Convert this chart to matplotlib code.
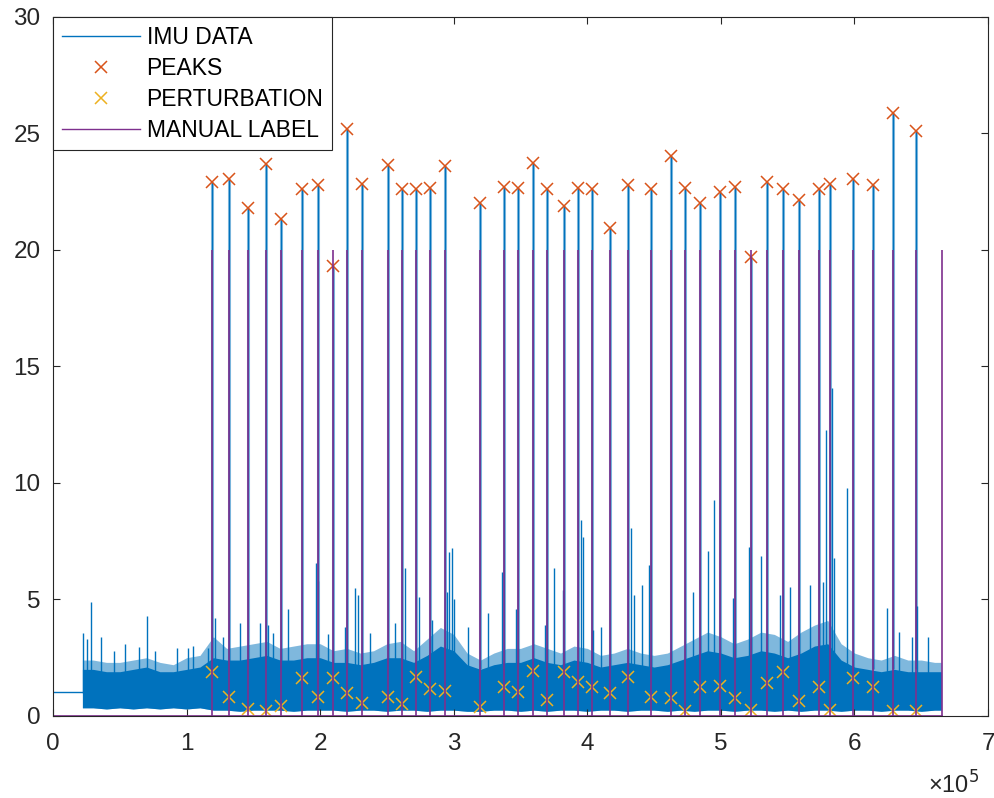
import matplotlib.pyplot as plt
from matplotlib.lines import Line2D

# x values are in units of 1e5 samples
peak_x = [1.190, 1.317, 1.460, 1.594, 1.707, 1.864, 1.984, 2.096, 2.201, 2.313,
          2.507, 2.612, 2.717, 2.822, 2.934, 3.196, 3.376, 3.481, 3.593, 3.698,
          3.825, 3.930, 4.034, 4.169, 4.304, 4.476, 4.626, 4.731, 4.843, 4.993,
          5.105, 5.225, 5.344, 5.464, 5.584, 5.734, 5.816, 5.988, 6.138, 6.287,
          6.460]
peak_y = [22.9, 23.05, 21.8, 23.7, 21.35, 22.6, 22.8, 19.3, 25.2, 22.85,
          23.65, 22.6, 22.6, 22.65, 23.6, 22.0, 22.7, 22.65, 23.75, 22.6,
          21.9, 22.65, 22.6, 20.95, 22.8, 22.6, 24.05, 22.65, 22.0, 22.5,
          22.7, 19.7, 22.9, 22.6, 22.15, 22.6, 22.85, 23.05, 22.8, 25.9,
          25.1]
pert_y = [1.9, 0.8, 0.3, 0.2, 0.43, 1.63, 0.8, 1.63, 0.97, 0.56,
          0.8, 0.5, 1.67, 1.15, 1.07, 0.38, 1.24, 1.02, 1.95, 0.68,
          1.9, 1.47, 1.24, 0.98, 1.67, 0.8, 0.76, 0.22, 1.25, 1.3,
          0.76, 0.26, 1.4, 1.87, 0.64, 1.25, 0.26, 1.63, 1.25, 0.22,
          0.22]
label_extra_x = [0.0, 6.654]
label_height = 20

# IMU signal: flat start, then a noisy band described by its envelope plus spikes
flat_x = [0.0, 0.222]
flat_y = [1.02, 1.02]
band_x = [0.22, 0.3, 0.4, 0.5, 0.6, 0.7, 0.8, 0.9, 1.0, 1.1,
          1.2, 1.3, 1.4, 1.5, 1.6, 1.7, 1.8, 1.9, 2.0, 2.1,
          2.2, 2.3, 2.4, 2.5, 2.6, 2.7, 2.8, 2.9, 3.0, 3.1,
          3.2, 3.3, 3.4, 3.5, 3.6, 3.7, 3.8, 3.9, 4.0, 4.1,
          4.2, 4.3, 4.4, 4.5, 4.6, 4.7, 4.8, 4.9, 5.0, 5.1,
          5.2, 5.3, 5.4, 5.5, 5.6, 5.7, 5.8, 5.9, 6.0, 6.1,
          6.2, 6.3, 6.4, 6.5, 6.6, 6.65]
band_dense = [2.0, 2.0, 1.9, 1.9, 2.0, 2.1, 1.9, 1.9, 2.0, 2.1,
              2.5, 2.4, 2.4, 2.5, 2.6, 2.4, 2.4, 2.5, 2.5, 2.3,
              2.3, 2.2, 2.3, 2.5, 2.5, 2.3, 2.6, 3.0, 2.8, 2.2,
              2.0, 2.2, 2.3, 2.3, 2.5, 2.3, 2.2, 2.4, 2.3, 2.1,
              2.2, 2.3, 2.2, 2.1, 2.2, 2.4, 2.6, 2.8, 2.7, 2.5,
              2.6, 2.8, 2.7, 2.5, 2.7, 3.0, 3.1, 2.4, 2.1, 2.0,
              1.9, 2.0, 1.9, 1.9, 1.9, 1.9]
band_light = [2.4, 2.4, 2.3, 2.3, 2.4, 2.5, 2.3, 2.2, 2.5, 2.6,
              3.4, 2.9, 3.0, 3.1, 3.2, 2.9, 3.0, 3.1, 3.1, 2.8,
              2.9, 2.7, 2.8, 3.1, 3.2, 2.8, 3.3, 3.8, 3.5, 2.7,
              2.4, 2.7, 2.9, 2.9, 3.1, 2.9, 2.7, 3.0, 2.9, 2.6,
              2.7, 2.9, 2.7, 2.6, 2.7, 3.0, 3.3, 3.6, 3.4, 3.1,
              3.3, 3.6, 3.5, 3.2, 3.6, 3.9, 4.1, 3.1, 2.7, 2.5,
              2.4, 2.6, 2.4, 2.4, 2.3, 2.3]
band_low = [0.35, 0.35, 0.3, 0.35, 0.3, 0.35, 0.3, 0.35, 0.3, 0.35,
            0.25, 0.25, 0.2, 0.25, 0.25, 0.25, 0.2, 0.25, 0.25, 0.25,
            0.2, 0.25, 0.25, 0.2, 0.25, 0.25, 0.2, 0.25, 0.25, 0.2,
            0.2, 0.25, 0.25, 0.2, 0.25, 0.2, 0.25, 0.25, 0.2, 0.25,
            0.25, 0.2, 0.25, 0.25, 0.2, 0.25, 0.2, 0.25, 0.25, 0.2,
            0.25, 0.25, 0.2, 0.25, 0.2, 0.25, 0.25, 0.2, 0.25, 0.25,
            0.2, 0.25, 0.25, 0.2, 0.25, 0.25]
spike_x = [0.227, 0.252, 0.284, 0.36, 0.46, 0.54, 0.64, 0.70, 0.76, 0.93,
           1.01, 1.05, 1.16, 1.213, 1.275, 1.40, 1.55, 1.61, 1.65, 1.76,
           1.966, 1.986, 2.06, 2.186, 2.26, 2.28, 2.37, 2.56, 2.635, 2.74,
           2.835, 2.947, 2.967, 2.984, 3.0, 3.11, 3.26, 3.36, 3.466, 3.68,
           3.75, 3.815, 3.95, 3.965, 4.04, 4.10, 4.33, 4.35, 4.41, 4.46,
           4.79, 4.905, 4.948, 5.09, 5.21, 5.30, 5.44, 5.52, 5.67, 5.766,
           5.79, 5.83, 5.85, 5.945, 6.247, 6.33, 6.43, 6.47, 6.55]
spike_y = [3.55, 3.3, 4.9, 3.4, 2.8, 3.1, 2.95, 4.3, 2.8, 2.9,
           2.9, 3.0, 2.9, 4.2, 3.4, 4.0, 4.0, 3.9, 3.55, 4.6,
           6.55, 5.8, 3.5, 3.8, 5.5, 5.2, 3.55, 4.0, 6.35, 5.1,
           4.1, 5.3, 7.05, 7.2, 5.0, 3.8, 4.4, 6.2, 4.6, 3.9,
           6.35, 5.4, 8.4, 7.7, 3.7, 3.8, 8.05, 5.2, 5.6, 6.5,
           5.3, 7.1, 9.27, 5.05, 7.27, 6.85, 5.2, 5.55, 5.6, 5.76,
           12.27, 14.06, 6.8, 9.77, 4.65, 3.6, 3.4, 4.7, 3.4]

c_imu = '#0072BD'
c_peak = '#D95319'
c_pert = '#EDB120'
c_label = '#7E2F8E'

plt.rcParams['font.family'] = ['Liberation Sans', 'DejaVu Sans']
fig = plt.figure(figsize=(9.95, 7.98), dpi=100)
ax = fig.add_axes([0.0533, 0.1028, 0.9397, 0.8759])

s = 1e5
bx = [v * s for v in band_x]
ax.plot([v * s for v in flat_x], flat_y, color=c_imu, lw=1)
ax.fill_between(bx, band_low, band_light, color=c_imu, alpha=0.5, lw=0)
ax.fill_between(bx, band_low, band_dense, color=c_imu, lw=0)
ax.vlines([v * s for v in spike_x], 1.0, spike_y, color=c_imu, lw=1)
ax.vlines([v * s for v in peak_x], 2.0, peak_y, color=c_imu, lw=2.2, alpha=0.5)
ax.vlines([v * s for v in peak_x], 2.0, peak_y, color=c_imu, lw=0.8)

ax.plot([v * s for v in peak_x], peak_y, 'x', color=c_peak, ms=8.5, mew=1.1)
ax.plot([v * s for v in peak_x], pert_y, 'x', color=c_pert, ms=8.5, mew=1.1)

label_x = [label_extra_x[0]] + peak_x + [label_extra_x[1]]
ax.plot([0, label_extra_x[1] * s], [0, 0], color=c_label, lw=1.2)
ax.vlines([v * s for v in label_x], 0, label_height, color=c_label, lw=1.2)

ax.set_xlim(0, 7e5)
ax.set_ylim(0, 30)
ax.set_xticks([i * s for i in range(8)])
ax.set_xticklabels([str(i) for i in range(8)])
ax.set_yticks(range(0, 31, 5))
ax.tick_params(direction='in', length=5, top=True, right=True,
               labelsize=17.5, colors='#262626', pad=9)
ax.tick_params(axis='x', pad=12)
for sp in ax.spines.values():
    sp.set_color('#262626')
    sp.set_linewidth(0.8)
fig.text(0.933, 0.006, '×10$^5$', fontsize=17, color='#262626')

handles = [Line2D([], [], color=c_imu, lw=1),
           Line2D([], [], color=c_peak, ls='none', marker='x', ms=8.5, mew=1.1),
           Line2D([], [], color=c_pert, ls='none', marker='x', ms=8.5, mew=1.1),
           Line2D([], [], color=c_label, lw=1)]
leg = ax.legend(handles, ['IMU DATA', 'PEAKS', 'PERTURBATION', 'MANUAL LABEL'],
                loc='upper left', fontsize=16.5, frameon=True, fancybox=False,
                edgecolor='#262626', framealpha=1, borderaxespad=0,
                handlelength=3.4, handletextpad=0.3, labelspacing=0.35,
                borderpad=0.38)
leg.get_frame().set_linewidth(0.8)

fig.savefig('out.png', dpi=100)
